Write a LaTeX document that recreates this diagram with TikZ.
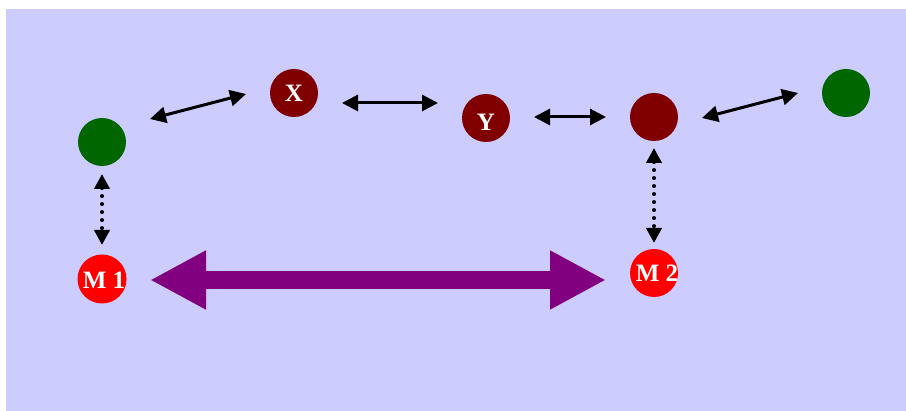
\documentclass[tikz,border=0pt]{standalone}
\usepackage{fontspec}
\setmainfont{Liberation Serif}
\usetikzlibrary{arrows.meta}
\definecolor{bgblue}{HTML}{CCCCFF}
\definecolor{leafgreen}{HTML}{006600}
\definecolor{maroonball}{HTML}{800000}
\definecolor{brightred}{HTML}{FF0000}
\definecolor{bigpurple}{HTML}{800080}
\tikzset{
  ball/.style={circle, inner sep=0pt, minimum size=48pt, fill=#1, draw=none},
  tag/.style={text=white, font=\fontsize{25}{25}\selectfont\bfseries, inner sep=0pt},
  link/.style={line width=3pt, {Triangle[length=16pt,width=16pt]}-{Triangle[length=16pt,width=16pt]}},
  dotlink/.style={line width=4pt, line cap=round, dash pattern=on 0pt off 8pt,
    {Triangle[length=15pt,width=15pt]}-{Triangle[length=15pt,width=15pt]}},
  fatlink/.style={line width=18pt, color=bigpurple,
    {Triangle[length=56pt,width=55pt]}-{Triangle[length=56pt,width=55pt]}}
}
\begin{document}
\begin{tikzpicture}[x=1pt,y=1pt]
  \useasboundingbox (0,0) rectangle (906,411);
  \fill[bgblue] (6,0) rectangle (906,402);

  % nodes
  \node[ball=leafgreen]  (g1) at (102,269) {};
  \node[ball=maroonball] (x)  at (294,318) {};
  \node[ball=maroonball] (y)  at (486,293) {};
  \node[ball=maroonball] (d)  at (654,294) {};
  \node[ball=leafgreen]  (g2) at (846,318) {};
  \node[ball=brightred, minimum size=49pt] (m1) at (102,132) {};
  \node[ball=brightred]  (m2) at (654,138) {};

  % labels
  \node[tag] (xl)  at ([yshift=0pt]x.center) {X};
  \node[tag] (yl)  at ([yshift=-4pt]y.center) {Y};
  \node[tag] (m1l) at ([xshift=2pt,yshift=-1pt]m1.center) {M 1};
  \node[tag] (m2l) at ([xshift=3pt]m2.center) {M 2};

  % connectors along the top chain
  \draw[link] ([shift={(48,23)}]g1.center) -- ([shift={(-48,-1)}]x.center);
  \draw[link] ([shift={(48,-10)}]x.center) -- ([shift={(-48,15)}]y.center);
  \draw[link] ([shift={(48,1)}]y.center) -- ([shift={(-48,0)}]d.center);
  \draw[link] ([shift={(48,-1)}]d.center) -- ([shift={(-48,0)}]g2.center);

  % dotted vertical links
  \draw[dotlink] ([shift={(0,-32)}]g1.center) -- ([shift={(0,34)}]m1.center);
  \draw[dotlink] ([shift={(0,-31)}]d.center) -- ([shift={(0,30)}]m2.center);

  % wide arrow between M1 and M2
  \draw[fatlink] ([shift={(48,-1)}]m1.center) -- ([shift={(-48,-7)}]m2.center);
\end{tikzpicture}
\end{document}
